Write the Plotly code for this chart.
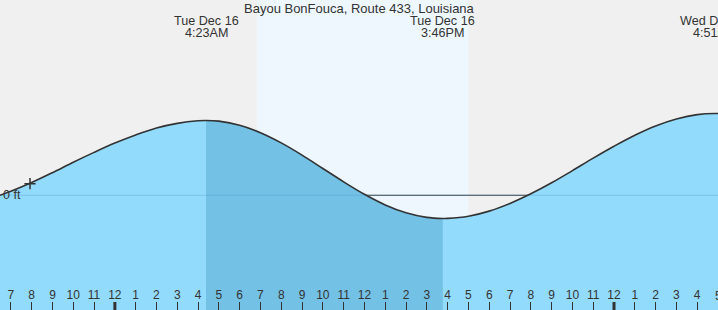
import plotly.graph_objects as go

# Hours relative to midnight, Tue Dec 16 (negative = Dec 15); heights in ft
tide_hours = [-6, -5, -4, -3, -2, -1, 0, 1, 2, 3, 4, 4.383,
              5, 6, 7, 8, 9, 10, 11, 12, 13, 14, 15, 15.767,
              16, 17, 18, 19, 20, 21, 22, 23, 24, 25, 26, 27, 28, 28.85, 29.5]
tide_ft = [-0.06, 0.07, 0.22, 0.39, 0.57, 0.74, 0.90, 1.04, 1.16, 1.24, 1.285, 1.29,
           1.278, 1.207, 1.079, 0.903, 0.692, 0.462, 0.232, 0.017, -0.166, -0.302, -0.381, -0.40,
           -0.399, -0.361, -0.273, -0.141, 0.025, 0.215, 0.425, 0.64, 0.845, 1.035, 1.195, 1.315, 1.39, 1.41, 1.40]

high1_idx, low_idx = 11, 23   # falling tide segment (darker fill)
now_hour, now_ft = -4.08, 0.20

sunrise, sunset = 6.83, 17.0
midnights = [0, 24]

extreme_hours = [4.383, 15.767, 28.85]
extreme_day = ["Tue Dec 16", "Tue Dec 16", "Wed Dec 17"]
extreme_time = ["4:23AM", "3:46PM", "4:51AM"]

tick_hours = list(range(-5, 30))
tick_labels = [str((h - 1) % 12 + 1) for h in tick_hours]

title = "Bayou BonFouca, Route 433, Louisiana"

x_range = [-5.523, 29.0]
y_range = [-1.978, 3.367]
W, H = 718, 310

font = "Liberation Sans, Arial, sans-serif"
txt = "#333333"
light = "rgb(147,219,252)"
dark = "rgb(115,193,229)"

fig = go.Figure()
base = y_range[0]
# light fill
fig.add_trace(go.Scatter(x=tide_hours, y=[base] * len(tide_hours), mode="lines",
                         line=dict(width=0), hoverinfo="skip", showlegend=False))
fig.add_trace(go.Scatter(x=tide_hours, y=tide_ft, mode="lines", fill="tonexty",
                         fillcolor=light, line=dict(width=0, shape="spline"),
                         hoverinfo="skip", showlegend=False))
# dark fill between high and low
sx = tide_hours[high1_idx:low_idx + 1]
sy = tide_ft[high1_idx:low_idx + 1]
fig.add_trace(go.Scatter(x=sx, y=[base] * len(sx), mode="lines",
                         line=dict(width=0), hoverinfo="skip", showlegend=False))
fig.add_trace(go.Scatter(x=sx, y=sy, mode="lines", fill="tonexty",
                         fillcolor=dark, line=dict(width=0, shape="spline"),
                         hoverinfo="skip", showlegend=False))
# faint zero line over fill
fig.add_trace(go.Scatter(x=x_range, y=[0, 0], mode="lines",
                         line=dict(width=1, color="rgba(80,150,200,0.35)"),
                         hoverinfo="skip", showlegend=False))
# tide curve
fig.add_trace(go.Scatter(x=tide_hours, y=tide_ft, mode="lines",
                         line=dict(width=1.6, color="#333333", shape="spline"),
                         hoverinfo="skip", showlegend=False))
# now marker
fig.add_trace(go.Scatter(x=[now_hour], y=[now_ft], mode="markers",
                         marker=dict(symbol="cross-thin", size=8,
                                     line=dict(width=1.5, color="#333333")),
                         hoverinfo="skip", showlegend=False))

shapes = [
    dict(type="rect", xref="x", yref="paper", x0=sunrise, x1=sunset, y0=0, y1=1,
         fillcolor="#eef7fe", line=dict(width=0), layer="below"),
    dict(type="line", xref="paper", yref="y", x0=0, x1=1, y0=0, y1=0,
         line=dict(width=1, color="#333333"), layer="below"),
]
for m in midnights:
    shapes.append(dict(type="line", xref="x", yref="paper", x0=m, x1=m,
                       y0=0, y1=8 / H, line=dict(width=3, color="#333333")))

annotations = [dict(text=title, x=0.5, xref="paper", y=1 - 8.5 / H, yref="paper",
                    yanchor="middle", showarrow=False,
                    font=dict(family=font, size=13, color=txt))]
for hx, d, t in zip(extreme_hours, extreme_day, extreme_time):
    annotations.append(dict(text=d, x=hx, xref="x", y=1 - 20.5 / H, yref="paper",
                            yanchor="middle", showarrow=False,
                            font=dict(family=font, size=12.6, color=txt)))
    annotations.append(dict(text=t, x=hx, xref="x", y=1 - 32.5 / H, yref="paper",
                            yanchor="middle", showarrow=False,
                            font=dict(family=font, size=12.6, color=txt)))
annotations.append(dict(text="0 ft", x=0, xref="paper", xanchor="left", xshift=1,
                        y=0, yref="y", yanchor="middle", showarrow=False,
                        font=dict(family=font, size=12.5, color=txt)))
# last hour label sits on the right edge (plotly hides overflowing tick labels)
annotations.append(dict(text=tick_labels[-1], x=tick_hours[-1], xref="x",
                        y=14 / H, yref="paper", yanchor="middle", showarrow=False,
                        font=dict(family=font, size=12, color=txt)))

fig.update_layout(
    width=W, height=H, margin=dict(l=0, r=0, t=0, b=0),
    paper_bgcolor="#f0f0f0", plot_bgcolor="#f0f0f0",
    shapes=shapes, annotations=annotations, showlegend=False,
    xaxis=dict(range=x_range, tickvals=tick_hours, ticktext=tick_labels,
               ticks="inside", ticklen=8, tickwidth=1, tickcolor="#333333",
               ticklabelposition="inside", showgrid=False, zeroline=False,
               showline=False, tickfont=dict(family=font, size=12, color=txt),
               fixedrange=True),
    yaxis=dict(range=y_range, showticklabels=False, showgrid=False,
               zeroline=False, ticks="", fixedrange=True),
)

fig.write_html("out.html")
